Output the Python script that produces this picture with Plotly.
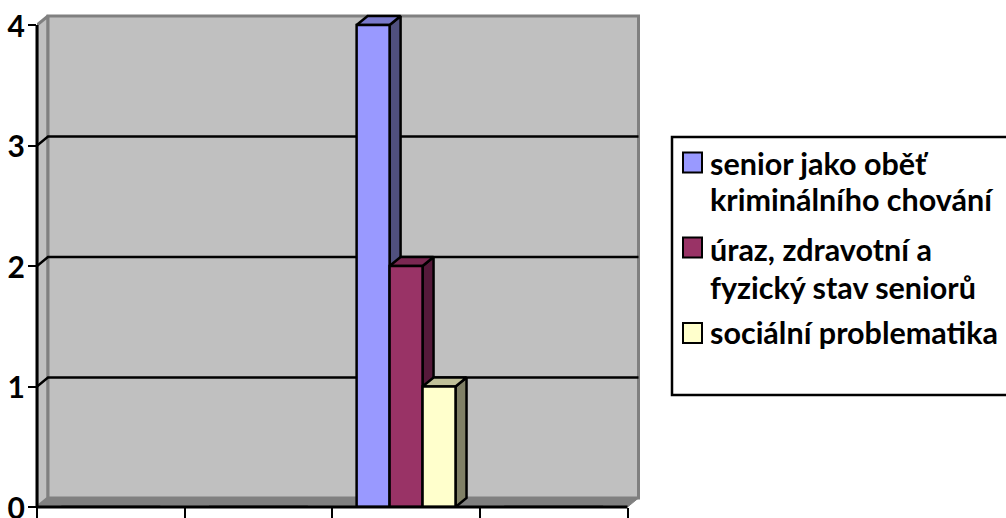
import plotly.graph_objects as go

# ---- data ----
category_positions = [0.5, 1.5, 2.5, 3.5]
series_names = ["senior jako oběť kriminálního chování",
                "úraz, zdravotní a fyzický stav seniorů",
                "sociální problematika"]
series_values = [[0, 0, 4, 0], [0, 0, 2, 0], [0, 0, 1, 0]]
y_ticks = [0, 1, 2, 3, 4]
x_ticks = [0, 1, 2, 3, 4]
legend_lines = [["senior jako oběť", "kriminálního chování"],
                ["úraz, zdravotní a", "fyzický stav seniorů"],
                ["sociální problematika"]]

FRONT = ["#9999FF", "#993366", "#FFFFCC"]
SIDE = ["#50507F", "#55193A", "#808066"]
TOP = ["#7A7ACC", "#7A2852", "#C0C099"]
FONT = "Lato, Carlito, Calibri, sans-serif"

W, H = 1006, 518
L, R, T, B = 37, 627.5, 25, 507        # pixel frame of the value range
VR, VT = 650, 6                        # plot area extends here to hold the 3-D depth
BARGAP = 0.33
xmax, ymax = x_ticks[-1], y_ticks[-1]
UX = (R - L) / xmax                    # pixels per axis unit
UY = (B - T) / ymax
DX = 11 / UX                           # depth offset in axis units
DY = 9 / UY


def poly(xs, ys, fill, line, lw, z):
    return go.Scatter(x=xs, y=ys, mode="lines", fill="toself", fillcolor=fill,
                      line=dict(color=line, width=lw), hoverinfo="skip",
                      showlegend=False, zorder=z)


fig = go.Figure()

# walls and floor
fig.add_trace(poly([0, DX, DX, 0, 0], [0, DY, ymax + DY, ymax, 0], "#C0C0C0", "#808080", 3, 0))
fig.add_trace(poly([DX, xmax + DX, xmax + DX, DX, DX], [DY, DY, ymax + DY, ymax + DY, DY], "#C0C0C0", "#808080", 3, 0))
fig.add_trace(poly([0, DX, xmax + DX, xmax, 0], [0, DY, DY, 0, 0], "#808080", "#808080", 1, 0))
# gridlines on the back wall
for v in y_ticks[1:-1]:
    fig.add_trace(go.Scatter(x=[0, DX, xmax + DX], y=[v, v + DY, v + DY], mode="lines",
                             line=dict(color="black", width=2.5), hoverinfo="skip",
                             showlegend=False, zorder=0))

# bars
bw = (1 - BARGAP) / len(series_values)
for i, (name, vals) in enumerate(zip(series_names, series_values)):
    z = 2 * i + 1
    for c, v in zip(category_positions, vals):
        if not v:
            continue
        x0 = c - (1 - BARGAP) / 2 + i * bw
        x1 = x0 + bw
        fig.add_trace(poly([x1, x1 + DX, x1 + DX, x1, x1], [0, DY, v + DY, v, 0], SIDE[i], "black", 2.5, z))
        fig.add_trace(poly([x0, x1, x1 + DX, x0 + DX, x0], [v, v, v + DY, v + DY, v], TOP[i], "black", 2.5, z))
    fig.add_trace(go.Bar(x=category_positions, y=vals, name=name, showlegend=False,
                         marker=dict(color=FRONT[i], line=dict(color="black", width=2.5)),
                         zorder=z + 1))

# paper-coordinate helpers
px = lambda x: (x - L) / (VR - L)
py = lambda y: (B - y) / (B - VT)

# hand-built legend
shapes = [dict(type="rect", xref="paper", yref="paper", x0=px(672), x1=px(1012), y0=py(395), y1=py(137),
               line=dict(color="black", width=2.5), fillcolor="white", layer="below"),
          # axis lines stop at the end of the value range
          dict(type="line", xref="paper", yref="paper", x0=px(L), x1=px(L), y0=py(B + 1), y1=py(T),
               line=dict(color="black", width=3)),
          dict(type="line", xref="paper", yref="paper", x0=px(L), x1=px(R), y0=py(B), y1=py(B),
               line=dict(color="black", width=3))]
annotations = []
swatch_y = [162.5, 247.5, 333]
line_y = [[163, 199], [249, 287], [332]]
for i, lines in enumerate(legend_lines):
    shapes.append(dict(type="rect", xref="paper", yref="paper", x0=px(683), x1=px(702),
                       y0=py(swatch_y[i] + 10), y1=py(swatch_y[i] - 10),
                       line=dict(color="black", width=2), fillcolor=FRONT[i]))
    for t, yy in zip(lines, line_y[i]):
        annotations.append(dict(text=t, xref="paper", yref="paper", x=px(708), y=py(yy), xanchor="left",
                                yanchor="middle", showarrow=False,
                                font=dict(family=FONT, size=30.5, color="black", weight="bold")))

fig.update_layout(
    width=W, height=H, autosize=False, barmode="group", bargap=BARGAP, bargroupgap=0,
    margin=dict(l=L, r=W - VR, t=VT, b=H - B, pad=0, autoexpand=False),
    paper_bgcolor="white", plot_bgcolor="white", showlegend=False,
    shapes=shapes, annotations=annotations,
    xaxis=dict(range=[0, (VR - L) / UX], tickvals=x_ticks, ticktext=[""] * 5, ticks="outside", ticklen=11,
               tickwidth=2, tickcolor="black", showline=False, showgrid=False, zeroline=False),
    yaxis=dict(range=[0, (B - VT) / UY], tickvals=y_ticks, ticks="outside", ticklen=8, tickwidth=2,
               tickcolor="black", showline=False, showgrid=False, zeroline=False,
               ticklabeloverflow="allow", ticklabelstandoff=-3, ticklabelshift=1,
               tickfont=dict(family=FONT, size=30, color="black", weight="bold")),
)
fig.write_html("out.html", config=dict(displayModeBar=False),
               post_script="document.body.style.margin='0';")
